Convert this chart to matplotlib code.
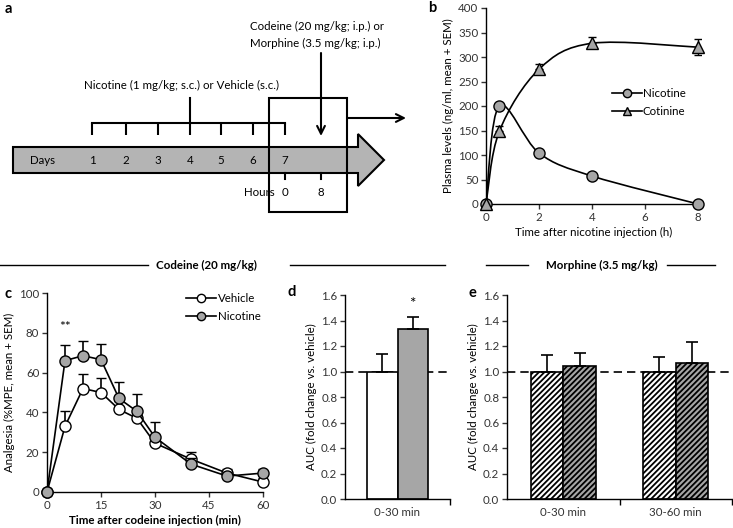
import matplotlib
matplotlib.use("Agg")
import matplotlib.pyplot as plt
import numpy as np
from matplotlib.path import Path
from matplotlib.patches import PathPatch, Polygon, Rectangle

plt.rcParams['font.family'] = ['Lato', 'DejaVu Sans']
plt.rcParams['font.size'] = 8.3
plt.rcParams['axes.linewidth'] = 1.0
plt.rcParams['hatch.linewidth'] = 1.3

FS = 8.3

# panel b: plasma levels
b_time = [0, 0.5, 2, 4, 8]
b_nicotine = [0, 200, 104, 57, 0]
b_nicotine_err = [0, 5, 4, 4, 2]
b_cotinine = [0, 148, 275, 328, 320]
b_cotinine_err_up = [0, 12, 10, 12, 16]
b_cotinine_err_lo = [0, 0, 0, 0, 16]

# panel c: analgesia time course
c_time = [0, 5, 10, 15, 20, 25, 30, 40, 50, 60]
c_vehicle = [0, 33, 52, 50, 41.5, 37, 24.5, 16.5, 9.5, 5]
c_vehicle_err = [0, 7.5, 7.5, 7.5, 4, 4, 3.5, 3.5, 2, 2]
c_nicotine = [0, 66, 68.5, 66.5, 47, 40.5, 27.5, 14, 8, 9.5]
c_nicotine_err = [0, 8, 7.5, 8, 8.5, 8.5, 7.5, 3, 2, 2]

# panel d: codeine AUC
d_groups = ['0-30 min']
d_vehicle = [1.0]
d_vehicle_err = [0.135]
d_nicotine = [1.33]
d_nicotine_err = [0.10]

# panel e: morphine AUC
e_groups = ['0-30 min', '30-60 min']
e_vehicle = [1.0, 1.0]
e_vehicle_err = [0.13, 0.117]
e_nicotine = [1.044, 1.065]
e_nicotine_err = [0.10, 0.17]

W, H = 733, 528
fig = plt.figure(figsize=(W / 100, H / 100), dpi=100)
GREY = '#a6a6a6'


def px_axes(l, t, r, b):
    return fig.add_axes([l / W, 1 - b / H, (r - l) / W, (b - t) / H])


def style(ax):
    for s in ['top', 'right']:
        ax.spines[s].set_visible(False)
    ax.tick_params(direction='out', length=3.5, width=1, pad=2, colors='#333333',
                   labelsize=FS)


def smooth_path(xs, ys):
    # Catmull-Rom style bezier through the points
    pts = np.column_stack([xs, ys]).astype(float)
    verts = [pts[0]]
    codes = [Path.MOVETO]
    n = len(pts)
    for i in range(n - 1):
        p0 = pts[max(i - 1, 0)]
        p1 = pts[i]
        p2 = pts[i + 1]
        p3 = pts[min(i + 2, n - 1)]
        verts += [p1 + (p2 - p0) / 6, p2 - (p3 - p1) / 6, p2]
        codes += [Path.CURVE4] * 3
    return Path(verts, codes)


# overlay for schematic, headers and panel letters
ov = fig.add_axes([0, 0, 1, 1])
ov.set_xlim(0, W)
ov.set_ylim(H, 0)
ov.axis('off')

# panel a schematic
arrow = Polygon([(13, 147), (358, 147), (358, 134), (384, 160), (358, 186),
                 (358, 173), (13, 173)], closed=True, facecolor='#b4b4b4',
                edgecolor='black', lw=1.5)
ov.add_patch(arrow)
ov.text(43, 160, 'Days', ha='center', va='center', fontsize=FS)
day_x = [92, 126, 158, 190, 221, 253, 285]
for i, x in enumerate(day_x):
    ov.text(x, 160, str(i + 1), ha='center', va='center', fontsize=FS)
    ov.plot([x, x], [123, 135], color='black', lw=1.5, solid_capstyle='butt')
ov.plot([day_x[0], day_x[-1]], [123, 123], color='black', lw=1.5)
ov.plot([190, 190], [98, 123], color='black', lw=1.5)
ov.text(181, 85, 'Nicotine (1 mg/kg; s.c.) or Vehicle (s.c.)', ha='center',
        va='center', fontsize=FS)
ov.add_patch(Rectangle((269, 98), 78, 114, fill=False, edgecolor='black', lw=1.5))
ov.annotate('', xy=(406, 118), xytext=(347, 118),
            arrowprops=dict(arrowstyle='->', lw=1.5, color='black',
                            mutation_scale=14, shrinkA=0, shrinkB=0))
ov.annotate('', xy=(321, 136), xytext=(321, 53),
            arrowprops=dict(arrowstyle='->', lw=1.5, color='black',
                            mutation_scale=14, shrinkA=0, shrinkB=0))
ov.text(250, 26, 'Codeine (20 mg/kg; i.p.) or', ha='left', va='center', fontsize=FS)
ov.text(250, 43, 'Morphine (3.5 mg/kg; i.p.)', ha='left', va='center', fontsize=FS)
for x, lab in [(285, '0'), (321, '8')]:
    ov.plot([x, x], [173, 179], color='black', lw=1.5)
    ov.text(x, 193, lab, ha='center', va='center', fontsize=FS)
ov.text(259, 193, 'Hours', ha='center', va='center', fontsize=FS)

# section headers
for x0, x1 in [(0, 148), (290, 445), (486, 528), (667, 715)]:
    ov.plot([x0, x1], [265, 265], color='black', lw=1)
ov.text(206, 265, 'Codeine (20 mg/kg)', ha='center', va='center',
        fontsize=FS, fontweight='bold')
ov.text(602, 265, 'Morphine (3.5 mg/kg)', ha='center', va='center',
        fontsize=FS, fontweight='bold')

# panel letters
for x, y, lab in [(8, 9, 'a'), (432, 8, 'b'), (8, 294, 'c'), (292, 292, 'd'),
                  (472, 293, 'e')]:
    ov.text(x, y, lab, ha='center', va='center', fontsize=10.5, fontweight='bold')

# panel b
axb = px_axes(486, 8, 701, 204)
style(axb)
axb.errorbar(b_time, b_nicotine, yerr=[np.zeros(5), b_nicotine_err], fmt='none',
             ecolor='black', elinewidth=1, capsize=3, zorder=2)
axb.errorbar(b_time, b_cotinine, yerr=[b_cotinine_err_lo, b_cotinine_err_up],
             fmt='none', ecolor='black', elinewidth=1, capsize=3, zorder=2)
axb.add_patch(PathPatch(smooth_path(b_time, b_nicotine), fill=False,
                        edgecolor='black', lw=1.2, zorder=3))
axb.add_patch(PathPatch(smooth_path(b_time, b_cotinine), fill=False,
                        edgecolor='black', lw=1.2, zorder=3))
axb.plot(b_time, b_nicotine, 'o', ms=8, mfc=GREY, mec='black', mew=1,
         zorder=4, clip_on=False)
axb.plot(b_time, b_cotinine, '^', ms=9, mfc=GREY, mec='black', mew=1,
         zorder=5, clip_on=False)
h1, = axb.plot([], [], '-o', color='black', lw=1.2, ms=6, mfc=GREY, mec='black')
h2, = axb.plot([], [], '-^', color='black', lw=1.2, ms=6, mfc=GREY, mec='black')
axb.legend([h1, h2], ['Nicotine', 'Cotinine'], loc='upper left',
           bbox_to_anchor=(0.585, 0.59), frameon=False, handlelength=2.6,
           handletextpad=0.1, labelspacing=0.6, borderpad=0, borderaxespad=0,
           fontsize=FS)
axb.set_xlim(0, 8.11)
axb.set_ylim(0, 400)
axb.set_xticks([0, 2, 4, 6, 8])
axb.set_yticks(np.arange(0, 401, 50))
axb.set_xlabel('Time after nicotine injection (h)', fontsize=FS, labelpad=3)
axb.set_ylabel('Plasma levels (ng/ml, mean + SEM)', fontsize=FS, labelpad=3)

# panel c
axc = px_axes(47, 293, 263, 492)
style(axc)
axc.errorbar(c_time, c_vehicle, yerr=[np.zeros(len(c_time)), c_vehicle_err],
             fmt='none', ecolor='black', elinewidth=1.2, capsize=3.5, zorder=2)
axc.plot(c_time, c_vehicle, '-o', color='black', lw=1.2, ms=8, mfc='white',
         mec='black', mew=1, zorder=3, clip_on=False, label='Vehicle')
axc.errorbar(c_time, c_nicotine, yerr=[np.zeros(len(c_time)), c_nicotine_err],
             fmt='none', ecolor='black', elinewidth=1.2, capsize=3.5, zorder=4)
axc.plot(c_time, c_nicotine, '-o', color='black', lw=1.2, ms=8, mfc=GREY,
         mec='black', mew=1, zorder=5, clip_on=False, label='Nicotine')
leg = axc.legend(loc='upper left', bbox_to_anchor=(0.645, 1.0), frameon=False,
                 handlelength=2.6, handletextpad=0.15, labelspacing=0.6,
                 borderpad=0, borderaxespad=0, markerscale=0.75, fontsize=FS)
axc.text(5, 83, '**', ha='center', va='center', fontsize=10)
axc.set_xlim(0, 60)
axc.set_ylim(0, 100)
axc.set_xticks([0, 15, 30, 45, 60])
axc.set_yticks(np.arange(0, 101, 20))
axc.set_xlabel('Time after codeine injection (min)', fontsize=FS,
               fontweight='bold', labelpad=3)
axc.set_ylabel('Analgesia (%MPE, mean + SEM)', fontsize=FS, labelpad=3)


def auc_axes(ax, groups):
    style(ax)
    ax.set_ylim(0, 1.6)
    ax.set_xlim(-0.5, len(groups) - 0.5)
    ax.set_yticks(np.arange(0, 1.61, 0.2))
    ax.set_yticklabels(['%.1f' % v for v in np.arange(0, 1.61, 0.2)])
    ax.set_xticks(range(len(groups)))
    ax.set_xticklabels(groups)
    ax.tick_params(axis='x', length=0, pad=6)
    ax.set_xticks(np.arange(0.5, len(groups), 1), minor=True)
    ax.tick_params(axis='x', which='minor', length=4, width=1, direction='out')
    ax.axhline(1.0, color='black', lw=1.2, ls=(0, (5, 3)), zorder=1)
    ax.set_ylabel('AUC (fold change vs. vehicle)', fontsize=FS, labelpad=3)


bw = 0.286

# panel d
axd = px_axes(345, 295, 450, 499)
auc_axes(axd, d_groups)
xd = np.arange(len(d_groups))
axd.bar(xd - bw / 2, d_vehicle, bw, color='white', edgecolor='black', lw=1.2,
        zorder=2, yerr=[[0] * len(xd), d_vehicle_err],
        error_kw=dict(ecolor='black', elinewidth=1.2, capsize=4, capthick=1.2))
axd.bar(xd + bw / 2, d_nicotine, bw, color=GREY, edgecolor='black', lw=1.2,
        zorder=2, yerr=[[0] * len(xd), d_nicotine_err],
        error_kw=dict(ecolor='black', elinewidth=1.2, capsize=4, capthick=1.2))
axd.text(xd[0] + bw / 2, 1.53, '*', ha='center', va='center', fontsize=11)

# panel e
axe = px_axes(507, 295, 732, 499)
auc_axes(axe, e_groups)
xe = np.arange(len(e_groups))
bwe = 0.29
axe.bar(xe - bwe / 2, e_vehicle, bwe, color='white', edgecolor='black', lw=1.2,
        hatch='//////', zorder=2, yerr=[[0] * len(xe), e_vehicle_err],
        error_kw=dict(ecolor='black', elinewidth=1.2, capsize=4, capthick=1.2))
axe.bar(xe + bwe / 2, e_nicotine, bwe, color=GREY, edgecolor='black', lw=1.2,
        hatch='//////', zorder=2, yerr=[[0] * len(xe), e_nicotine_err],
        error_kw=dict(ecolor='black', elinewidth=1.2, capsize=4, capthick=1.2))

fig.savefig('out.png', dpi=100)
